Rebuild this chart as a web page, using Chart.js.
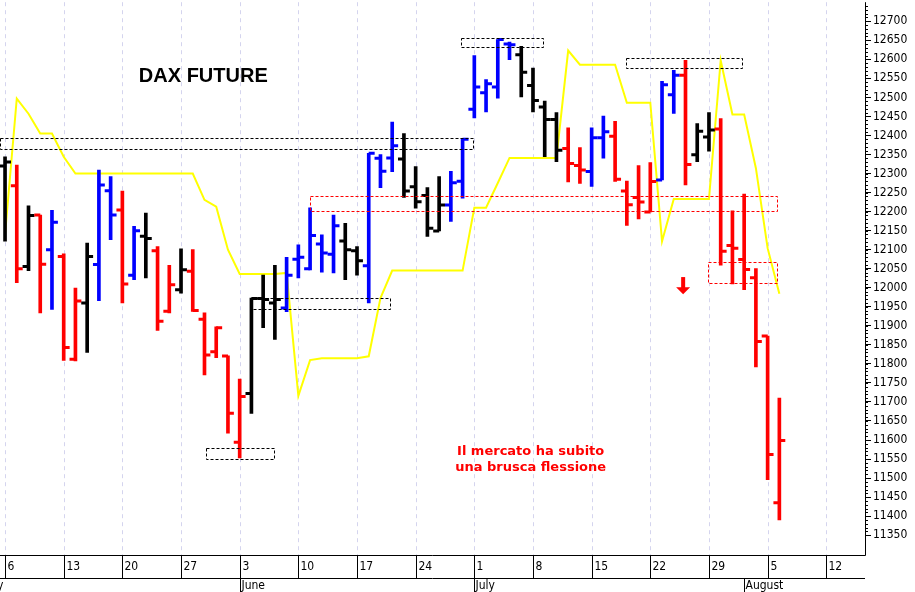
<!DOCTYPE html>
<html><head><meta charset="utf-8">
<script src="https://cdn.jsdelivr.net/npm/chart.js@4/dist/chart.umd.min.js"></script>
<style>html,body{margin:0;padding:0;background:#fff;overflow:hidden}#w{position:absolute;left:-7px;top:-7px;width:922px;height:599px}</style>
</head><body><div id="w"><canvas id="c"></canvas></div>
<script>
// Trading days, index 0 = Mon 6 May 2019
const highs=[12344,12322,12215,12191,12203,12089,11999,12117,12309,12292,12254,12161,12196,12108,12059,12102,12100,11934,11897,11821,11760,11973,12033,12059,12080,12113,12210,12139,12191,12169,12108,12353,12350,12435,12405,12318,12263,12292,12306,12392,12610,12547,12652,12645,12634,12577,12490,12460,12420,12368,12420,12451,12437,12280,12321,12329,12542,12571,12597,12431,12460,12444,12202,12246,12050,11873,11710];
const lows=[12122,12013,12045,11934,11943,11809,11808,11830,11966,12126,11960,12021,12026,11888,11934,11986,11938,11771,11816,11618,11553,11670,11895,11864,11937,12026,12047,12041,12039,12021,12033,11960,12263,12305,12237,12209,12135,12149,12174,12235,12446,12462,12498,12599,12501,12462,12344,12331,12278,12274,12266,12340,12279,12164,12181,12199,12283,12458,12270,12331,12359,12059,12010,11995,11792,11496,11390];
const opens=[12320,12268,12056,12191,12100,12082,11812,11960,12061,12255,12204,12033,12135,12097,11938,11995,12043,11917,11832,11821,11594,11722,11972,11960,11947,12075,12050,12115,12088,12123,12097,12058,12340,12341,12338,12265,12242,12149,12217,12280,12469,12512,12527,12640,12612,12531,12475,12442,12366,12321,12305,12394,12398,12254,12237,12199,12283,12507,12558,12349,12396,12417,12111,12074,12026,11873,11435];
const closes=[12330,12050,12190,12062,12172,11843,11965,12082,12270,12191,12010,12150,12129,11912,12008,12047,11940,11823,11895,11670,11714,11972,11969,11969,12033,12080,12137,12091,12163,12100,12071,12353,12306,12373,12254,12226,12156,12217,12276,12390,12527,12536,12652,12638,12566,12492,12442,12361,12326,12309,12394,12410,12285,12218,12225,12279,12533,12558,12324,12411,12414,12096,12104,12048,11859,11562,11599];
const barColors="krkrbrrkbbrbkrrkrrrrrkkkbbbbbkkbbbkkkkbbbbbbkkkkrrbbrrrrbbrkkrrrrrr".split("");
const signal=[12140,12497,12457,12405,12405,12344,12300,12300,12300,12300,12300,12300,12300,12300,12300,12300,12300,12231,12213,12100,12036,12036,12036,12036,12039,11716,11810,11815,11815,11815,11815,11820,11973,12045,12045,12045,12045,12045,12045,12045,12210,12210,12275,12341,12341,12341,12341,12341,12623,12586,12586,12586,12586,12486,12486,12486,12122,12233,12233,12233,12233,12597,12455,12455,12314,12104,11984];
const weekLabels=["6","13","20","27","3","10","17","24","1","8","15","22","29","5","12"];
const monthLabels=[["May",-0.15,"right"],["June",20,"left"],["July",40,"left"],["August",63,"left"]];
const priceTicks=[];for(let p=11350;p<=12700;p+=50)priceTicks.push(p);
const blackBoxes=[[-0.6,39.9,12365,12394],[20.9,32.8,11944,11973],[17.1,22.9,11549,11578],[38.9,45.9,12632,12655],[52.9,62.8,12577,12603]];
const redBoxes=[[26.0,65.8,12203,12242],[59.9,65.8,12012,12067]];
const title=["DAX FUTURE",16.9,12556];
const note=[["Il mercato ha subito",44.8,11570],["una brusca flessione",44.8,11528]];
const arrow=[57.8,12028,11983];

const col={k:"#000000",r:"#ff0000",b:"#0000ff"};
const idx=highs.map((_,i)=>i);
const lblFont="12px 'Liberation Sans Narrow','DejaVu Sans Condensed',Arial";
const overlay={id:"overlay",
 beforeDatasetsDraw(ch){const {ctx,scales:{x,y},chartArea:a}=ch;ctx.save();
  ctx.strokeStyle="#d4d4ee";ctx.lineWidth=1;ctx.setLineDash([4,4]);
  for(let i=0;i<=70;i+=5){const px=Math.round(x.getPixelForValue(i))+0.5;ctx.beginPath();ctx.moveTo(px,a.top);ctx.lineTo(px,a.bottom);ctx.stroke();}
  ctx.restore();},
 afterDatasetsDraw(ch){const {ctx,scales:{x,y},chartArea:a}=ch;ctx.save();ctx.lineWidth=1;ctx.setLineDash([3,2]);
  const box=(b,c)=>{ctx.strokeStyle=c;const x0=Math.max(x.getPixelForValue(b[0]),a.left),x1=x.getPixelForValue(b[1]),y0=y.getPixelForValue(b[3]),y1=y.getPixelForValue(b[2]);ctx.strokeRect(Math.round(x0)+0.5,Math.round(y0)+0.5,Math.round(x1-x0),Math.round(y1-y0));};
  blackBoxes.forEach(b=>box(b,"#000"));redBoxes.forEach(b=>box(b,"#ff0000"));
  ctx.setLineDash([]);
  ctx.fillStyle="#000";ctx.font="bold 20px 'Liberation Sans',Arial";ctx.textAlign="center";ctx.textBaseline="middle";
  ctx.fillText(title[0],x.getPixelForValue(title[1]),y.getPixelForValue(title[2]));
  ctx.fillStyle="#ff0000";ctx.font="bold 13px 'DejaVu Sans'";
  note.forEach(n=>ctx.fillText(n[0],x.getPixelForValue(n[1]),y.getPixelForValue(n[2])));
  const ax=x.getPixelForValue(arrow[0]),ay0=y.getPixelForValue(arrow[1]),ay1=y.getPixelForValue(arrow[2]);
  ctx.fillRect(ax-2,ay0,4,ay1-ay0-6);ctx.beginPath();ctx.moveTo(ax-7,ay1-7);ctx.lineTo(ax+7,ay1-7);ctx.lineTo(ax,ay1);ctx.closePath();ctx.fill();
  ctx.strokeStyle="#000";ctx.lineWidth=1;ctx.beginPath();ctx.moveTo(a.right+0.5,a.top);ctx.lineTo(a.right+0.5,a.bottom+0.5);ctx.lineTo(a.left,a.bottom+0.5);ctx.stroke();
  const yb=a.bottom+23;ctx.beginPath();ctx.moveTo(a.left,yb+0.5);ctx.lineTo(a.right,yb+0.5);ctx.stroke();
  ctx.fillStyle="#000";ctx.font=lblFont;ctx.textBaseline="middle";
  weekLabels.forEach((w,k)=>{const px=Math.round(x.getPixelForValue(k*5))+0.5;ctx.beginPath();ctx.moveTo(px,a.bottom);ctx.lineTo(px,yb);ctx.stroke();ctx.textAlign="left";ctx.fillText(w,px+2,a.bottom+12);});
  monthLabels.forEach(m=>{const px=Math.round(x.getPixelForValue(m[1]))+0.5;ctx.textAlign=m[2];if(m[2]==="left"){ctx.beginPath();ctx.moveTo(px,yb);ctx.lineTo(px,ch.height);ctx.stroke();ctx.fillText(m[0],px+1,yb+8);}else ctx.fillText(m[0],px,yb+8);});
  for(let p=11350;p<=12740;p+=10){const py=Math.round(y.getPixelForValue(p))+0.5;ctx.beginPath();ctx.moveTo(a.right,py);ctx.lineTo(a.right+3,py);ctx.stroke();}
  ctx.restore();}};

const ds=[{type:"bar",data:idx.map(i=>({x:i,y:[lows[i],highs[i]]})),backgroundColor:barColors.map(c=>col[c]),barThickness:3,order:2},
 {type:"line",data:idx.map(i=>({x:i-0.25,y:opens[i]})),showLine:false,pointStyle:"line",pointRadius:3,pointBorderWidth:3,pointBorderColor:barColors.map(c=>col[c]),order:1},
 {type:"line",data:idx.map(i=>({x:i+0.25,y:closes[i]})),showLine:false,pointStyle:"line",pointRadius:3,pointBorderWidth:3,pointBorderColor:barColors.map(c=>col[c]),order:1},
 {type:"line",data:idx.map(i=>({x:i,y:signal[i]})),borderColor:"#ffff00",borderWidth:2,pointRadius:0,tension:0,order:3}];

new Chart(document.getElementById("c"),{data:{datasets:ds},plugins:[overlay],
 options:{responsive:true,maintainAspectRatio:false,animation:false,events:[],
  layout:{padding:0},plugins:{legend:{display:false},tooltip:{enabled:false}},
  scales:{
   x:{type:"linear",min:-0.43,max:73.3,offset:false,
     afterFit(s){s.height=37;},
     afterBuildTicks(s){s.ticks=weekLabels.map((_,k)=>({value:k*5}));},
     ticks:{display:false},
     grid:{display:false},border:{display:false}},
   y:{position:"right",min:11298,max:12750,
     afterFit(s){s.width=50;},
     afterBuildTicks(s){s.ticks=priceTicks.map(v=>({value:v}));},
     ticks:{autoSkip:false,color:"#000",padding:2,font:{size:12,family:"'Liberation Sans Narrow','DejaVu Sans Condensed',Arial"},callback:v=>String(v)},
     grid:{drawOnChartArea:false,tickLength:6,tickColor:"#000"},border:{display:false}}}}});
</script></body></html>
